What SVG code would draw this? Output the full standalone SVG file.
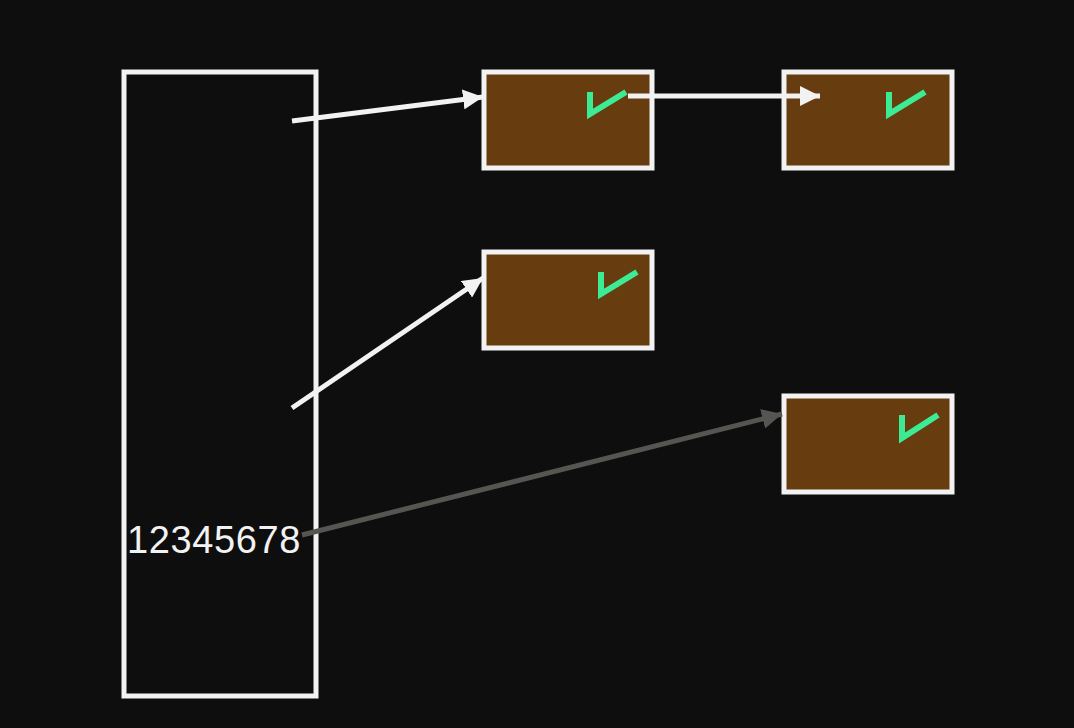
<svg xmlns="http://www.w3.org/2000/svg" width="1074" height="728" viewBox="0 0 1074 728">
<style>
.box{fill:#673c0e;stroke:#f2f2f2;stroke-width:5}
.chk{fill:none;stroke:#3ceb94;stroke-width:6;stroke-linecap:butt;stroke-linejoin:miter}
.conn{fill:none;stroke-width:5}
</style>
<defs>
<marker id="aw" viewBox="0 0 10 10" refX="10" refY="5" markerWidth="4" markerHeight="4" orient="auto" markerUnits="strokeWidth"><path d="M0,0 L10,5 L0,10 z" fill="#f2f2f2"/></marker>
<marker id="ag" viewBox="0 0 10 10" refX="10" refY="5" markerWidth="4" markerHeight="4" orient="auto" markerUnits="strokeWidth"><path d="M0,0 L10,5 L0,10 z" fill="#555552"/></marker>
</defs>
<rect width="1074" height="728" fill="#0e0e0e"/>
<g id="array">
<rect x="124" y="72" width="192" height="624" fill="none" stroke="#f2f2f2" stroke-width="5"/>
<text x="214" y="553" text-anchor="middle" font-family="Liberation Sans, sans-serif" font-size="38" letter-spacing="0.6" fill="#f2f2f2" stroke="#0e0e0e" stroke-width="1" paint-order="stroke">12345678</text>
</g>
<g id="node1">
<rect class="box" x="484" y="72" width="168" height="96"/>
<path class="chk" d="M590,92 V114 L626,92"/>
</g>
<g id="node2">
<rect class="box" x="784" y="72" width="168" height="96"/>
<path class="chk" d="M889,92 V114 L925,92"/>
</g>
<g id="node3">
<rect class="box" x="484" y="252" width="168" height="96"/>
<path class="chk" d="M601,272 V294 L637,272"/>
</g>
<g id="node4">
<rect class="box" x="784" y="396" width="168" height="96"/>
<path class="chk" d="M902,415 V438 L938,415"/>
</g>
<g id="connectors">
<line class="conn" x1="292" y1="121" x2="483" y2="97" stroke="#f2f2f2" marker-end="url(#aw)"/>
<line class="conn" x1="292" y1="408" x2="483" y2="278" stroke="#f2f2f2" marker-end="url(#aw)"/>
<line class="conn" x1="302" y1="535" x2="782" y2="414" stroke="#555552" marker-end="url(#ag)"/>
<line class="conn" x1="628" y1="96" x2="820" y2="96" stroke="#f2f2f2" marker-end="url(#aw)"/>
</g>
</svg>
